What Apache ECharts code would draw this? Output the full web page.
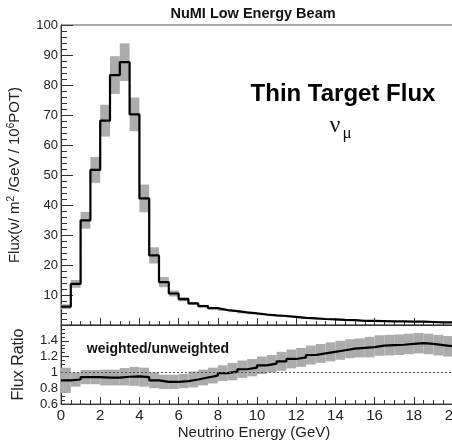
<!DOCTYPE html>
<html>
<head>
<meta charset="utf-8">
<script src="https://cdn.jsdelivr.net/npm/echarts@6/dist/echarts.min.js"></script>
<style>html,body{margin:0;padding:0;background:#fff;}#c{width:452px;height:444px;}</style>
</head>
<body>
<div id="c"></div>
<script>
// Bin edges (GeV)
var energyEdges = [0,0.5,1,1.5,2,2.5,3,3.5,4,4.5,5,5.5,6,6.5,7,7.5,8,8.5,9,9.5,10,10.5,11,11.5,12,12.5,13,13.5,14,14.5,15,15.5,16,16.5,17,17.5,18,18.5,19,19.5,20];
// Flux per bin (nu / m^2 / GeV / 10^6 POT)
var flux = [6.1,13.7,34.9,51.7,68.1,83.3,87.6,70.2,42.2,23.2,14.3,10.5,8.6,7.2,6.3,5.6,5.0,4.6,4.2,3.9,3.5,3.2,3.0,2.7,2.4,2.2,2.0,1.9,1.7,1.6,1.4,1.4,1.3,1.2,1.2,1.1,1.1,1.0,0.9,0.9];
// Flux uncertainty half-width
var fluxErr = [0.8,1.3,2.8,4.3,5.3,6.3,6.3,5.6,4.6,2.7,1.7,1.0,0.7,0.5,0.45,0.4,0.35,0.3,0.3,0.3,0.25,0.25,0.2,0.2,0.2,0.2,0.15,0.15,0.15,0.15,0.15,0.1,0.1,0.1,0.1,0.1,0.1,0.1,0.1,0.1];
// Weighted / unweighted ratio per bin
var ratio = [0.90,0.91,0.94,0.94,0.935,0.935,0.945,0.95,0.94,0.90,0.88,0.88,0.89,0.91,0.935,0.96,0.99,1.01,1.04,1.06,1.09,1.11,1.14,1.17,1.19,1.22,1.24,1.26,1.28,1.30,1.31,1.32,1.34,1.345,1.35,1.36,1.37,1.36,1.345,1.33];
var ratioErr = [0.16,0.09,0.09,0.09,0.1,0.1,0.11,0.12,0.12,0.1,0.09,0.09,0.09,0.1,0.1,0.1,0.1,0.11,0.11,0.11,0.11,0.11,0.12,0.12,0.12,0.12,0.12,0.12,0.12,0.12,0.12,0.13,0.13,0.13,0.13,0.13,0.13,0.13,0.13,0.13];
var xTicks = [0,2,4,6,8,10,12,14,16,18,20];
var fluxTicks = [10,20,30,40,50,60,70,80,90,100];
var ratioTicks = [0.6,0.8,1,1.2,1.4];

function bandData(vals, errs) {
  return vals.map(function (v, i) { return [energyEdges[i], energyEdges[i+1], v - errs[i], v + errs[i]]; });
}
function stepData(vals) {
  var d = vals.map(function (v, i) { return [energyEdges[i], v]; });
  d.push([energyEdges[energyEdges.length-1], vals[vals.length-1]]);
  return d;
}
function renderBand(params, api) {
  var p0 = api.coord([api.value(0), api.value(3)]);
  var p1 = api.coord([api.value(1), api.value(2)]);
  return {type:'rect', shape:{x:p0[0], y:p0[1], width:p1[0]-p0[0], height:p1[1]-p0[1]},
    style:{fill:'#acacac'}};
}
var FONT = 'Liberation Sans, Arial, Helvetica, sans-serif';
var SERIF = 'Liberation Serif, Times New Roman, serif';
var chart = echarts.init(document.getElementById('c'), null, {renderer:'canvas'});
var axisLineStyle = {color:'#333', width:1};
chart.setOption({
  animation:false,
  backgroundColor:'#fff',
  grid:[
    {left:61, width:392, top:25, height:300, show:true, borderColor:'#555', borderWidth:1, backgroundColor:'transparent', outerBoundsMode:'none', containLabel:false},
    {left:61, width:392, top:325, height:79, show:true, borderColor:'#555', borderWidth:1, backgroundColor:'transparent', outerBoundsMode:'none', containLabel:false}
  ],
  xAxis:[
    {type:'value', gridIndex:0, min:0, max:20, interval:2,
     axisLine:{lineStyle:axisLineStyle}, axisLabel:{show:false},
     axisTick:{inside:true, length:7, lineStyle:{color:'#333'}},
     minorTick:{show:true, splitNumber:4, length:4, lineStyle:{color:'#333'}},
     splitLine:{show:false}},
    {type:'value', gridIndex:1, min:0, max:20, interval:2,
     axisLine:{lineStyle:axisLineStyle},
     axisLabel:{show:true, fontSize:15, color:'#222', fontFamily:FONT, margin:4,
       formatter:function(v){ return xTicks.indexOf(v) >= 0 ? String(v) : ''; }},
     axisTick:{inside:true, length:7, lineStyle:{color:'#333'}},
     minorTick:{show:true, splitNumber:4, length:4, lineStyle:{color:'#333'}},
     splitLine:{show:false}}
  ],
  yAxis:[
    {type:'value', gridIndex:0, min:0, max:100, interval:10,
     axisLine:{lineStyle:axisLineStyle},
     axisLabel:{fontSize:13, color:'#222', fontFamily:FONT, margin:3,
       formatter:function(v){ return fluxTicks.indexOf(v) >= 0 ? String(v) : ''; }},
     axisTick:{inside:true, length:12, lineStyle:{color:'#333'}},
     minorTick:{show:true, splitNumber:5, length:6, lineStyle:{color:'#333'}},
     splitLine:{show:false},
     name:'{a|Flux(ν/ m}{s|2}{a| /GeV / 10}{s|6}{a|POT)}', nameLocation:'middle', nameRotate:90, nameGap:37,
     nameTextStyle:{rich:{a:{fontSize:15, fontFamily:FONT, color:'#222', lineHeight:18}, s:{fontSize:10, fontFamily:FONT, color:'#222', verticalAlign:'top', lineHeight:18}}}},
    {type:'value', gridIndex:1, min:0.6, max:1.6, interval:0.2,
     axisLine:{lineStyle:axisLineStyle},
     axisLabel:{fontSize:13, color:'#222', fontFamily:FONT, margin:3,
       formatter:function(v){ var r = Math.round(v*10)/10; return ratioTicks.indexOf(r) >= 0 ? String(r) : ''; }},
     axisTick:{inside:true, length:8, lineStyle:{color:'#333'}},
     minorTick:{show:true, splitNumber:4, length:4, lineStyle:{color:'#333'}},
     splitLine:{show:false},
     name:'Flux Ratio', nameLocation:'middle', nameRotate:90, nameGap:34,
     nameTextStyle:{fontSize:16, fontFamily:FONT, color:'#222'}}
  ],
  series:[
    {type:'custom', xAxisIndex:0, yAxisIndex:0, renderItem:renderBand, data:bandData(flux, fluxErr), clip:true, silent:true, z:1},
    {type:'line', xAxisIndex:0, yAxisIndex:0, data:stepData(flux), step:'end', symbol:'none',
     lineStyle:{color:'#000', width:2.2}, clip:true, z:3, silent:true},
    {type:'custom', xAxisIndex:1, yAxisIndex:1, renderItem:renderBand, data:bandData(ratio, ratioErr), clip:true, silent:true, z:1},
    {type:'line', xAxisIndex:1, yAxisIndex:1, data:stepData(ratio), step:'end', symbol:'none',
     lineStyle:{color:'#000', width:2.2}, clip:true, z:3, silent:true,
     markLine:{silent:true, symbol:['none','none'], label:{show:false}, data:[{yAxis:1}],
       lineStyle:{type:[2,2], color:'#555', width:1}}}
  ],
  graphic:[
    {type:'text', style:{text:'NuMI Low Energy Beam', x:253, y:14, align:'center', verticalAlign:'middle', font:'bold 14.5px ' + FONT, fill:'#111'}},
    {type:'text', style:{text:'Thin Target Flux', x:343, y:94, align:'center', verticalAlign:'middle', font:'bold 24px ' + FONT, fill:'#000'}},
    {type:'text', style:{text:'ν', x:335, y:126, align:'center', verticalAlign:'middle', font:'24px ' + SERIF, fill:'#111'}},
    {type:'text', style:{text:'μ', x:347, y:134, align:'center', verticalAlign:'middle', font:'17px ' + SERIF, fill:'#111'}},
    {type:'text', style:{text:'weighted/unweighted', x:158, y:349, align:'center', verticalAlign:'middle', font:'bold 14px ' + FONT, fill:'#111'}},
    {type:'text', style:{text:'Neutrino Energy (GeV)', x:254, y:433, align:'center', verticalAlign:'middle', font:'15px ' + FONT, fill:'#222'}}
  ]
});
</script>
</body>
</html>
